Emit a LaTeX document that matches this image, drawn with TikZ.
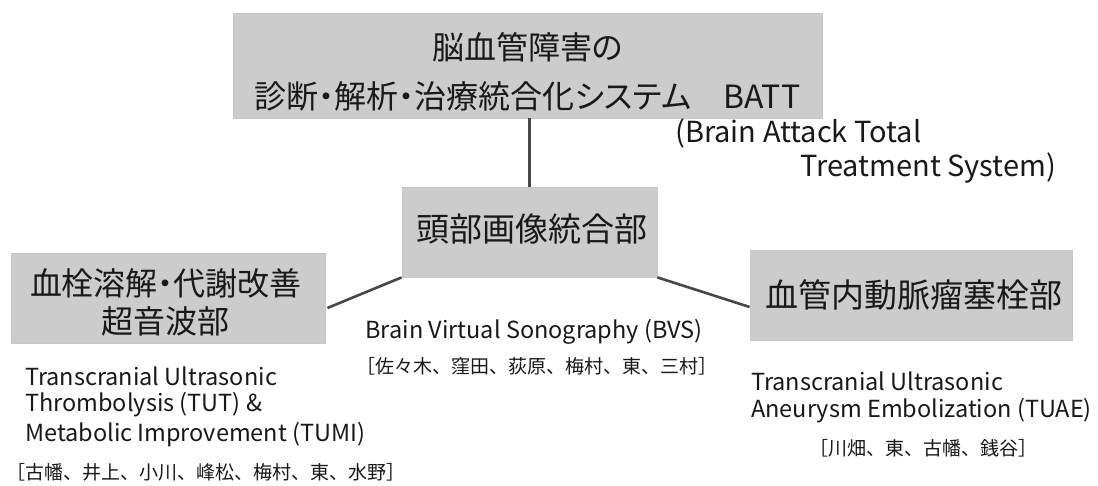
\documentclass[tikz,border=0pt]{standalone}
\usepackage{fontspec}
\usetikzlibrary{calc}
\setmainfont{Noto Sans CJK JP}[RawFeature={+palt}]
\newfontfamily\jpfull{Noto Sans CJK JP}
\begin{document}
\begin{tikzpicture}[x=1pt,y=-1pt,
  box/.style={fill=black!20, draw=black!22, line width=0.8pt, inner sep=0pt},
  conn/.style={draw=black!72, line width=2.6pt},
  txt/.style={inner sep=0pt, text=black!90},
  en/.style={txt, font=\fontsize{23.5}{28}\selectfont},
  names/.style={txt, font=\jpfull\fontsize{19}{22}\selectfont}]
\useasboundingbox[fill=white] (0,0) rectangle (1098,486);
% boxes
\node[box, minimum width=589pt, minimum height=105pt] (top) at (527.5,65.5) {};
\node[box, minimum width=255pt, minimum height=90pt] (mid) at (529.5,232) {};
\node[box, minimum width=314pt, minimum height=90pt] (left) at (168,298) {};
\node[box, minimum width=322pt, minimum height=90pt] (right) at (911,295) {};
% connectors
\coordinate (lefta) at ($(left.east)+(2,10)$);
\coordinate (righta) at ($(right.west)+(0,12)$);
\draw[conn] (top.south -| mid.north) -- (mid.north);
\draw[conn] (lefta) -- (mid.south west);
\draw[conn] (mid.south east) -- (righta);
% box texts
\node[txt, align=center, font=\fontsize{32}{49}\selectfont] (toptext) at (527.5,72) {脳血管障害の\\診断・解析・治療統合化システム　BATT};
\node[txt, font=\fontsize{33}{40}\selectfont] (midtext) at (532,229) {頭部画像統合部};
\node[txt, align=center, font=\fontsize{32}{38}\selectfont] (lefttext) at (166,302) {血栓溶解・代謝改善\\超音波部};
\node[txt, font=\fontsize{33}{40}\selectfont] (righttext) at (914,295) {血管内動脈瘤塞栓部};
% english notes
\node[en, anchor=west, font=\fontsize{29}{34}\selectfont] (bat1) at (675,133) {(Brain Attack Total};
\node[en, anchor=west, font=\fontsize{29}{34}\selectfont] (bat2) at (800,168) {Treatment System)};
\node[en] (bvs) at (534,332) {Brain Virtual Sonography (BVS)};
\node[names] (bvsn) at (537,366) {［佐々木、窪田、荻原、梅村、東、三村］};
\node[en, anchor=west] (l1) at (25,376) {Transcranial Ultrasonic};
\node[en, anchor=west] (l2) at (25,405) {Thrombolysis (TUT) \&};
\node[en, anchor=west] (l3) at (25,435) {Metabolic Improvement (TUMI)};
\node[names, anchor=west] (ln) at (6,472) {［古幡、井上、小川、峰松、梅村、東、水野］};
\node[en, anchor=west] (r1) at (751,381) {Transcranial Ultrasonic};
\node[en, anchor=west] (r2) at (751,411) {Aneurysm Embolization (TUAE)};
\node[names] (rn) at (923,448) {［川畑、東、古幡、銭谷］};
\end{tikzpicture}
\end{document}
